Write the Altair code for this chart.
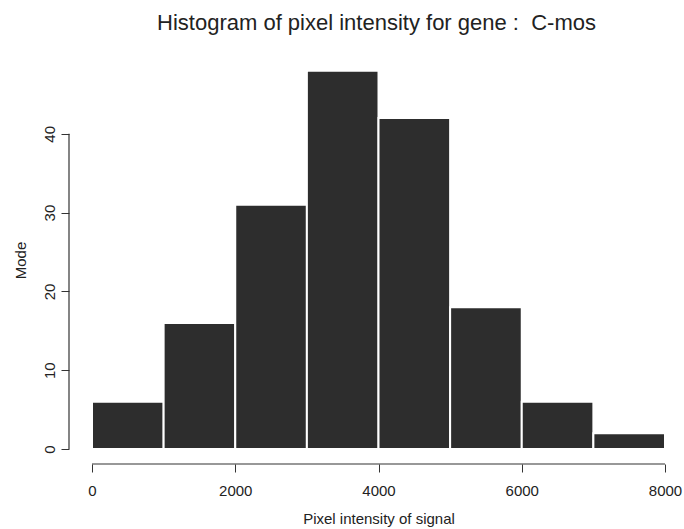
import altair as alt
import pandas as pd

bin_start = [0, 1000, 2000, 3000, 4000, 5000, 6000, 7000]
bin_end = [1000, 2000, 3000, 4000, 5000, 6000, 7000, 8000]
counts = [6, 16, 31, 48, 42, 18, 6, 2]
x_ticks = [0, 2000, 4000, 6000, 8000]
y_ticks = [0, 10, 20, 30, 40]

W, H = 573, 394
df = pd.DataFrame({"start": bin_start, "end": bin_end, "count": counts})

font = "Liberation Sans"
x_scale = alt.Scale(domain=[0, 8000], nice=False, zero=False)
y_scale = alt.Scale(domain=[0, 50], nice=False)

XOFF, YOFF = 15, 23

bars = alt.Chart(df).mark_rect(color="#2d2d2d", stroke="white", strokeWidth=2).encode(
    x=alt.X("start:Q", scale=x_scale,
            axis=alt.Axis(values=x_ticks, title="Pixel intensity of signal", domain=False,
                          grid=False, offset=XOFF, tickSize=8, tickColor="#333",
                          labelFlush=False, labelBound=False,
                          labelFontSize=15, labelFont=font, labelColor="#222", labelPadding=11,
                          titleFont=font, titleFontSize=15, titleFontWeight="normal",
                          titleColor="#222", titlePadding=13, format="d")),
    x2="end:Q",
    y=alt.Y("count:Q", scale=y_scale,
            axis=alt.Axis(values=y_ticks, title="Mode", domain=False, grid=False,
                          offset=YOFF, tickSize=8, tickColor="#333",
                          labelFlush=False, labelBound=False,
                          labelAngle=270, labelAlign="center", labelBaseline="bottom",
                          labelFontSize=15, labelFont=font, labelColor="#222", labelPadding=4,
                          titleFont=font, titleFontSize=15, titleFontWeight="normal",
                          titleColor="#222", titlePadding=14, titleY=205)),
    y2=alt.datum(0),
)

yline = alt.Chart(pd.DataFrame({"a": [y_ticks[0]], "b": [y_ticks[-1]]})).mark_rule(
    color="#333", strokeWidth=1.2).encode(
    x=alt.value(-YOFF), y=alt.Y("a:Q", scale=y_scale), y2="b:Q")

xline = alt.Chart(pd.DataFrame({"a": [x_ticks[0]], "b": [x_ticks[-1]]})).mark_rule(
    color="#333", strokeWidth=1.2).encode(
    y=alt.value(H + XOFF), x=alt.X("a:Q", scale=x_scale), x2="b:Q")

chart = alt.layer(bars, yline, xline).properties(
    width=W, height=H,
    background="white",
    autosize=alt.AutoSizeParams(type="none"),
    padding={"left": 92, "top": 55, "right": 19, "bottom": 80},
    title=alt.TitleParams("Histogram of pixel intensity for gene :\u00a0 C-mos",
                          font=font, fontSize=22, fontWeight="normal", color="#222",
                          anchor="middle", offset=20, dx=-2),
).configure_view(stroke=None, strokeWidth=0)

chart.save("out.html", embed_options={"renderer": "svg", "actions": False})
